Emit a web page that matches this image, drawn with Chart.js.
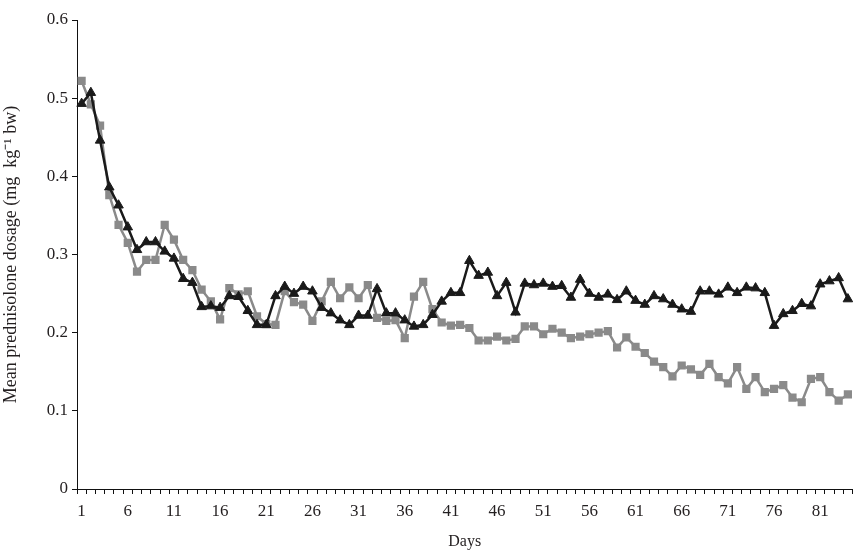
<!DOCTYPE html>
<html>
<head>
<meta charset="utf-8">
<script src="https://cdn.jsdelivr.net/npm/chart.js@4"></script>
<style>
  html, body { margin: 0; padding: 0; background: #fff; }
  #wrap { width: 859px; height: 551px; }
</style>
</head>
<body>
<div id="wrap"><canvas id="dose-chart"></canvas></div>
<script>
// days on the x axis (1..84)
const days = Array.from({ length: 84 }, (_, i) => i + 1);

// grey squares
const greySeries = [
  0.522, 0.492, 0.465, 0.376, 0.338, 0.315, 0.278, 0.293, 0.293, 0.338,
  0.319, 0.293, 0.280, 0.255, 0.240, 0.217, 0.257, 0.249, 0.253, 0.221,
  0.211, 0.210, 0.253, 0.239, 0.236, 0.215, 0.240, 0.265, 0.244, 0.258,
  0.244, 0.261, 0.219, 0.215, 0.216, 0.193, 0.246, 0.265, 0.230, 0.213,
  0.209, 0.210, 0.206, 0.190, 0.190, 0.195, 0.190, 0.192, 0.208, 0.208,
  0.198, 0.205, 0.200, 0.193, 0.195, 0.198, 0.200, 0.202, 0.181, 0.194,
  0.182, 0.174, 0.163, 0.156, 0.144, 0.158, 0.153, 0.146, 0.160, 0.143,
  0.135, 0.156, 0.128, 0.143, 0.124, 0.128, 0.133, 0.117, 0.111, 0.141,
  0.143, 0.124, 0.113, 0.121
];

// black triangles
const blackSeries = [
  0.493, 0.507, 0.446, 0.386, 0.363, 0.335, 0.306, 0.316, 0.316, 0.304,
  0.295, 0.269, 0.264, 0.233, 0.234, 0.232, 0.247, 0.246, 0.228, 0.210,
  0.210, 0.247, 0.259, 0.250, 0.259, 0.253, 0.232, 0.225, 0.216, 0.210,
  0.222, 0.222, 0.256, 0.225, 0.225, 0.216, 0.208, 0.210, 0.223, 0.240,
  0.251, 0.251, 0.292, 0.273, 0.277, 0.247, 0.264, 0.226, 0.263, 0.261,
  0.263, 0.259, 0.260, 0.245, 0.268, 0.250, 0.245, 0.249, 0.242, 0.253,
  0.241, 0.236, 0.247, 0.243, 0.236, 0.230, 0.227, 0.253, 0.253, 0.249,
  0.258, 0.251, 0.258, 0.257, 0.251, 0.209, 0.224, 0.228, 0.237, 0.234,
  0.262, 0.266, 0.270, 0.243
];

const yTicks = [0, 0.1, 0.2, 0.3, 0.4, 0.5, 0.6];

const serif = 'Liberation Serif';
const textColor = '#231f20';

const data = {
  labels: days,
  datasets: [
    {
      label: 'black',
      data: blackSeries,
      borderColor: '#1a1a1a',
      backgroundColor: '#1a1a1a',
      borderWidth: 2.5,
      pointStyle: 'triangle',
      pointRadius: 5.5,
      pointBorderWidth: 1,
      tension: 0,
      order: 1
    },
    {
      label: 'grey',
      data: greySeries,
      borderColor: '#8a8a8a',
      backgroundColor: '#8a8a8a',
      borderWidth: 2.5,
      pointStyle: 'rect',
      pointRadius: 5.8,
      pointBorderWidth: 0,
      tension: 0,
      order: 2
    }
  ]
};

const config = {
  type: 'line',
  data: data,
  options: {
    responsive: false,
    animation: false,
    devicePixelRatio: 1,
    layout: { padding: { top: 20, right: 6, left: 0, bottom: 0 } },
    plugins: { legend: { display: false }, tooltip: { enabled: false } },
    scales: {
      x: {
        type: 'category',
        offset: true,
        border: { display: true, color: '#111', width: 1 },
        grid: {
          offset: true,
          drawOnChartArea: false,
          drawTicks: true,
          tickLength: 5,
          color: '#111'
        },
        ticks: {
          autoSkip: false,
          maxRotation: 0,
          padding: 7,
          color: textColor,
          font: { family: serif, size: 17 },
          callback: (val, i) => (i % 5 === 0 ? String(days[i]) : '')
        },
        title: {
          display: true,
          text: 'Days',
          color: textColor,
          font: { family: serif, size: 16 },
          padding: { top: 6, bottom: 0 }
        },
        afterFit: (scale) => { scale.height = 62; }
      },
      y: {
        min: 0,
        max: 0.6,
        border: { display: true, color: '#111', width: 1 },
        grid: {
          drawOnChartArea: false,
          drawTicks: true,
          tickLength: 5,
          color: '#111'
        },
        afterBuildTicks: (scale) => {
          scale.ticks = yTicks.map(v => ({ value: v }));
        },
        ticks: {
          padding: 4,
          color: textColor,
          font: { family: serif, size: 17 },
          callback: (v) => (v === 0 ? '0' : v.toFixed(1))
        },
        title: {
          display: true,
          text: 'Mean prednisolone dosage (mg  kg\u207B\u00B9 bw)',
          color: textColor,
          font: { family: serif, size: 18 },
          padding: { top: 0, bottom: 2 }
        },
        afterFit: (scale) => { scale.width = 77; }
      }
    }
  }
};

const canvas = document.getElementById('dose-chart');
canvas.width = 859;
canvas.height = 551;
const doseChart = new Chart(canvas, config);
</script>
</body>
</html>
